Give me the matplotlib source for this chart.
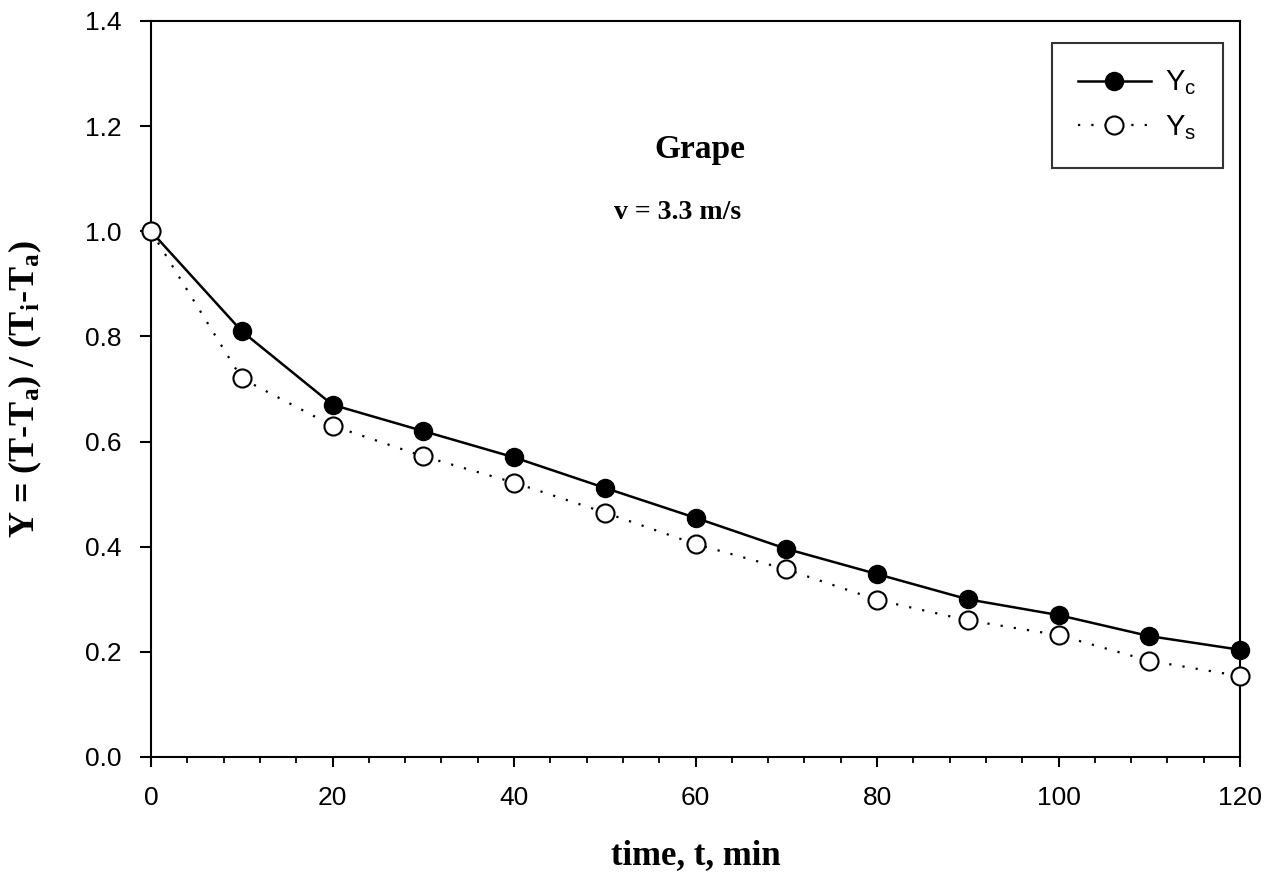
import matplotlib
matplotlib.use("Agg")
import matplotlib.pyplot as plt
from matplotlib.ticker import MultipleLocator, FormatStrFormatter

t_min = [0, 10, 20, 30, 40, 50, 60, 70, 80, 90, 100, 110, 120]
y_c = [1.0, 0.81, 0.67, 0.62, 0.57, 0.512, 0.455, 0.396, 0.348, 0.300, 0.270, 0.230, 0.204]
y_s = [1.0, 0.72, 0.63, 0.572, 0.522, 0.465, 0.405, 0.357, 0.299, 0.260, 0.232, 0.183, 0.154]

plt.rcParams['mathtext.fontset'] = 'custom'
plt.rcParams['mathtext.rm'] = 'Liberation Serif:bold'
plt.rcParams['mathtext.bf'] = 'Liberation Serif:bold'
plt.rcParams['mathtext.it'] = 'Liberation Serif:bold'

fig = plt.figure(figsize=(12.77, 8.75), dpi=100)
ax = fig.add_axes([151/1277, 1-757/875, (1240-151)/1277, (757-21)/875])

ax.plot(t_min, y_c, '-', color='black', lw=1.8, marker='o', ms=13,
        mfc='black', mec='black', label=r'Y$_\mathregular{c}$', zorder=3, clip_on=False)
ax.plot(t_min, y_s, color='black', lw=1.6, ls=(0, (1, 5)), marker='o', ms=13,
        mfc='white', mec='black', mew=1.5, label=r'Y$_\mathregular{s}$', zorder=4, clip_on=False)

ax.set_xlim(0, 120)
ax.set_ylim(0, 1.4)
ax.xaxis.set_major_locator(MultipleLocator(20))
ax.xaxis.set_minor_locator(MultipleLocator(4))
ax.yaxis.set_major_locator(MultipleLocator(0.2))
ax.yaxis.set_major_formatter(FormatStrFormatter('%.1f'))

for s in ax.spines.values():
    s.set_linewidth(1.5)
ax.tick_params(axis='both', which='major', direction='out', length=7, width=1.5,
               labelsize=19)
ax.tick_params(axis='y', which='major', length=8, pad=13)
ax.tick_params(axis='x', which='major', pad=14)
ax.tick_params(axis='x', which='minor', direction='out', length=4, width=1.3)
for lab in ax.get_xticklabels() + ax.get_yticklabels():
    lab.set_fontfamily('Liberation Sans')

ax.set_xlabel('time, t, min', fontsize=25, fontfamily='Liberation Serif',
              fontweight='bold', labelpad=21)
ax.set_ylabel(r'Y = (T-T$_\mathregular{a}$) / (T$_\mathregular{i}$-T$_\mathregular{a}$)',
              fontsize=26, fontfamily='Liberation Serif', fontweight='bold', labelpad=30)

ax.text(60.5, 1.155, 'Grape', ha='center', va='center', fontsize=24,
        fontfamily='Liberation Serif', fontweight='bold')
ax.text(58, 1.035, 'v = 3.3 m/s', ha='center', va='center', fontsize=20,
        fontfamily='Liberation Serif', fontweight='bold')

leg = ax.legend(loc='upper right', bbox_to_anchor=((1223-151)/(1240-151), (757-43)/736),
                prop={'family': 'Liberation Sans', 'size': 21}, frameon=True,
                fancybox=False, edgecolor='black', handlelength=2.5,
                borderpad=0.9, labelspacing=0.55, handletextpad=0.5, borderaxespad=0)
leg.get_frame().set_linewidth(1.5)

fig.savefig('out.png', dpi=100)
